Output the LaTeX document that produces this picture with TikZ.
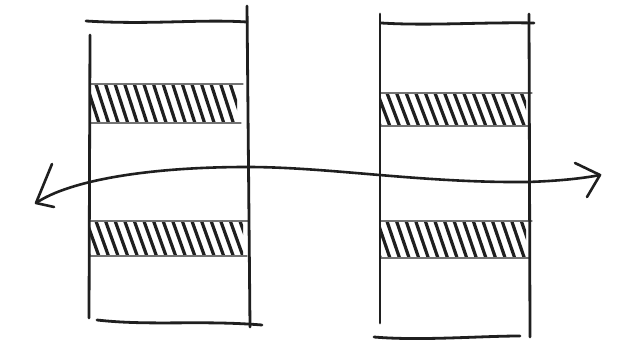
\documentclass[tikz,border=0pt]{standalone}
\begin{document}
\begin{tikzpicture}[x=1pt,y=-1pt,line cap=round,line join=round]
\tikzset{
  wall/.style={line width=2.8pt,black!88},
  hatchline/.style={line width=3.2pt,black!88},
  bandedge/.style={line width=1.1pt,black!55},
  ray/.style={line width=2.6pt,black!88}
}
\newcommand\hatchband[4]{%
  \begin{scope}
    \clip (#1,#2) rectangle (#3,#4);
    \foreach \k in {0,...,19}
      \draw[hatchline] ({#1-14+9.6*\k},{#2-2}) -- ++(14,{#4-#2+4});
  \end{scope}
  \draw[bandedge] (#1,#2) -- ({#3+6},#2);
  \draw[bandedge] (#1,#4) -- ({#3+4},#4);
}
\useasboundingbox (0,0) rectangle (617,344);
\fill[white] (0,0) rectangle (617,344);
% left slab
\hatchband{90}{84}{237}{123}
\hatchband{90}{221}{243}{256}
\draw[wall] (86,21) .. controls (150,25) and (200,19) .. (247,22);
\draw[wall] (90,35) -- (89,318);
\draw[wall] (247,6) -- (250,327);
\draw[wall] (97,320) .. controls (150,326) and (200,320) .. (262,325);
% right slab
\hatchband{381}{93}{526}{126}
\hatchband{381}{221}{526}{258}
\draw[wall] (381,23) .. controls (430,26) and (480,22) .. (534,23);
\draw[wall] (380,14) -- (380,323);
\draw[wall] (529,14) -- (530,337);
\draw[wall] (374,337) .. controls (420,341) and (480,336) .. (520,336);
% ray
\coordinate (L) at (36,203);
\coordinate (R) at (600,175);
\draw[ray] (L) .. controls (70,180) and (150,167) .. (247,167)
  .. controls (330,167) and (420,183) .. (527,182)
  .. controls (560,181) and (585,178) .. (R);
\draw[ray] (52,164) -- (L) -- (54,207);
\draw[ray] (575,163) -- (R) -- (587,197);
\end{tikzpicture}
\end{document}
